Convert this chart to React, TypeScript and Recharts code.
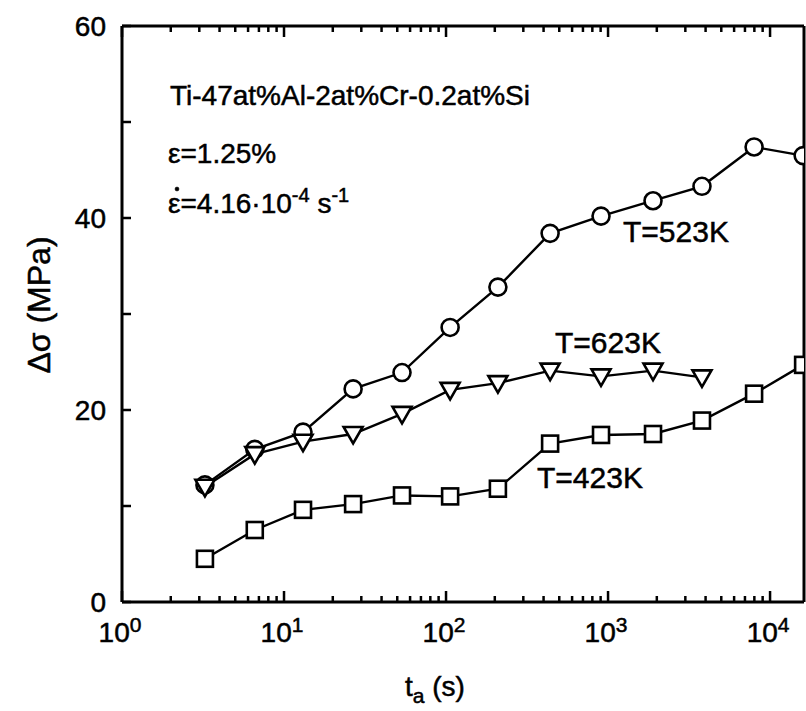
import { Line, LineChart, XAxis, YAxis } from "recharts";

// annealing time t_a (s)
const times = [3.25, 6.6, 13.1, 26.7, 53.5, 106, 209, 439, 905, 1895, 3800, 7970, 16000];
// stress increment (MPa) per test temperature
const sigma523 = [12.2, 15.9, 17.7, 22.2, 23.9, 28.6, 32.8, 38.4, 40.2, 41.8, 43.3, 47.4, 46.5];
const sigma623 = [12.0, 15.4, 16.7, 17.5, 19.6, 22.1, 22.8, 24.1, 23.5, 24.1, 23.4];
const sigma423 = [4.5, 7.5, 9.6, 10.2, 11.1, 11.0, 11.8, 16.5, 17.4, 17.5, 18.9, 21.7, 24.7];

const xTicks = [
  1, 2, 3, 4, 5, 6, 7, 8, 9,
  10, 20, 30, 40, 50, 60, 70, 80, 90,
  100, 200, 300, 400, 500, 600, 700, 800, 900,
  1000, 2000, 3000, 4000, 5000, 6000, 7000, 8000, 9000,
  10000,
];
const xDecades = [1, 10, 100, 1000, 10000];
const yTicks = [0, 10, 20, 30, 40, 50, 60];
const yLabels = [0, 20, 40, 60];

const FONT = "'Liberation Sans', Arial, Helvetica, sans-serif";
// scanned print looks a little heavier than the plain font
const INK = { fill: "#000", stroke: "#000", strokeWidth: 0.5 };

const data = times.map((t, i) => ({
  t,
  s523: sigma523[i],
  s623: i < sigma623.length ? sigma623[i] : null,
  s423: sigma423[i],
}));

function BottomTick({ x, y, payload }: any) {
  const exp = xDecades.indexOf(payload.value);
  const major = exp >= 0;
  return (
    <g>
      <line x1={x} x2={x} y1={y} y2={y - (major ? 11 : 6)} stroke="#000" strokeWidth={2.5} />
      {major && (
        <text x={x - 2} y={y + 40} textAnchor="middle" fontSize={28} fontFamily={FONT} {...INK}>
          10
          <tspan fontSize={21} dy={-10}>
            {exp}
          </tspan>
        </text>
      )}
    </g>
  );
}

function TopTick({ x, y, payload }: any) {
  const major = xDecades.includes(payload.value);
  return <line x1={x} x2={x} y1={y} y2={y + (major ? 11 : 6)} stroke="#000" strokeWidth={2.5} />;
}

function LeftTick({ x, y, payload }: any) {
  return (
    <g>
      <line x1={x} x2={x + 9} y1={y} y2={y} stroke="#000" strokeWidth={2.5} />
      {yLabels.includes(payload.value) && (
        <text x={x - 16} y={y + 10} textAnchor="end" fontSize={28} fontFamily={FONT} {...INK}>
          {payload.value}
        </text>
      )}
    </g>
  );
}

function RightTick({ x, y }: any) {
  return <line x1={x} x2={x - 9} y1={y} y2={y} stroke="#000" strokeWidth={2.5} />;
}

const circleDot = (p: any) =>
  p.cy == null ? (
    <g key={`c${p.index}`} />
  ) : (
    <circle key={`c${p.index}`} cx={p.cx} cy={p.cy} r={8.5} fill="#fff" stroke="#000" strokeWidth={2.6} />
  );

const triangleDot = (p: any) =>
  p.cy == null ? (
    <g key={`t${p.index}`} />
  ) : (
    <polygon
      key={`t${p.index}`}
      points={`${p.cx - 9.5},${p.cy - 7} ${p.cx + 9.5},${p.cy - 7} ${p.cx},${p.cy + 9.5}`}
      fill="#fff"
      stroke="#000"
      strokeWidth={2.6}
    />
  );

const squareDot = (p: any) =>
  p.cy == null ? (
    <g key={`s${p.index}`} />
  ) : (
    <rect key={`s${p.index}`} x={p.cx - 8} y={p.cy - 8} width={16} height={16} fill="#fff" stroke="#000" strokeWidth={2.6} />
  );

const axisStroke = { stroke: "#000", strokeWidth: 3 };

export default function App() {
  return (
    <div style={{ position: "absolute", left: 0, top: 0, width: 806, height: 711, background: "#fff" }}>
      <LineChart width={806} height={711} data={data} margin={{ top: 0, right: 0, bottom: 0, left: 0 }}>
        <XAxis
          xAxisId="bottom"
          dataKey="t"
          type="number"
          scale="log"
          domain={[1, 16200]}
          allowDataOverflow
          ticks={xTicks}
          interval={0}
          orientation="bottom"
          height={109}
          tickSize={0}
          tickMargin={0}
          tickLine={false}
          axisLine={axisStroke}
          tick={<BottomTick />}
        />
        <XAxis
          xAxisId="top"
          dataKey="t"
          type="number"
          scale="log"
          domain={[1, 16200]}
          allowDataOverflow
          ticks={xTicks}
          interval={0}
          orientation="top"
          height={26}
          tickSize={0}
          tickMargin={0}
          tickLine={false}
          axisLine={axisStroke}
          tick={<TopTick />}
        />
        <YAxis
          yAxisId="left"
          type="number"
          domain={[0, 60]}
          ticks={yTicks}
          interval={0}
          width={122}
          tickSize={0}
          tickMargin={0}
          tickLine={false}
          axisLine={axisStroke}
          tick={<LeftTick />}
        />
        <YAxis
          yAxisId="right"
          orientation="right"
          type="number"
          domain={[0, 60]}
          ticks={yTicks}
          interval={0}
          width={2}
          tickSize={0}
          tickMargin={0}
          tickLine={false}
          axisLine={axisStroke}
          tick={<RightTick />}
        />
        <Line
          xAxisId="bottom"
          yAxisId="left"
          dataKey="s523"
          type="linear"
          stroke="#000"
          strokeWidth={2.4}
          dot={circleDot}
          isAnimationActive={false}
        />
        <Line
          xAxisId="bottom"
          yAxisId="left"
          dataKey="s623"
          type="linear"
          stroke="#000"
          strokeWidth={2.4}
          dot={triangleDot}
          isAnimationActive={false}
        />
        <Line
          xAxisId="bottom"
          yAxisId="left"
          dataKey="s423"
          type="linear"
          stroke="#000"
          strokeWidth={2.4}
          dot={squareDot}
          isAnimationActive={false}
        />
      </LineChart>
      <svg
        width={806}
        height={711}
        style={{ position: "absolute", left: 0, top: 0, pointerEvents: "none" }}
        fontFamily={FONT}
        {...INK}
      >
        <text x={170} y={105} fontSize={28}>
          Ti-47at%Al-2at%Cr-0.2at%Si
        </text>
        <text x={168} y={163} fontSize={28}>
          ε=1.25%
        </text>
        <circle cx={177} cy={189} r={2} fill="#000" />
        <text x={168} y={213} fontSize={28}>
          ε=4.16·10
          <tspan fontSize={20} dy={-11}>
            -4
          </tspan>
          <tspan dy={11}> s</tspan>
          <tspan fontSize={20} dy={-11}>
            -1
          </tspan>
        </text>
        <text x={623} y={242} fontSize={30}>
          T=523K
        </text>
        <text x={555} y={353} fontSize={30}>
          T=623K
        </text>
        <text x={537} y={488} fontSize={30}>
          T=423K
        </text>
        <text transform="translate(50, 305) rotate(-90)" textAnchor="middle" fontSize={32}>
          Δσ (MPa)
        </text>
        <text x={405} y={696} fontSize={28}>
          t
          <tspan fontSize={21} dy={7}>
            a
          </tspan>
          <tspan dy={-7}> (s)</tspan>
        </text>
      </svg>
    </div>
  );
}
